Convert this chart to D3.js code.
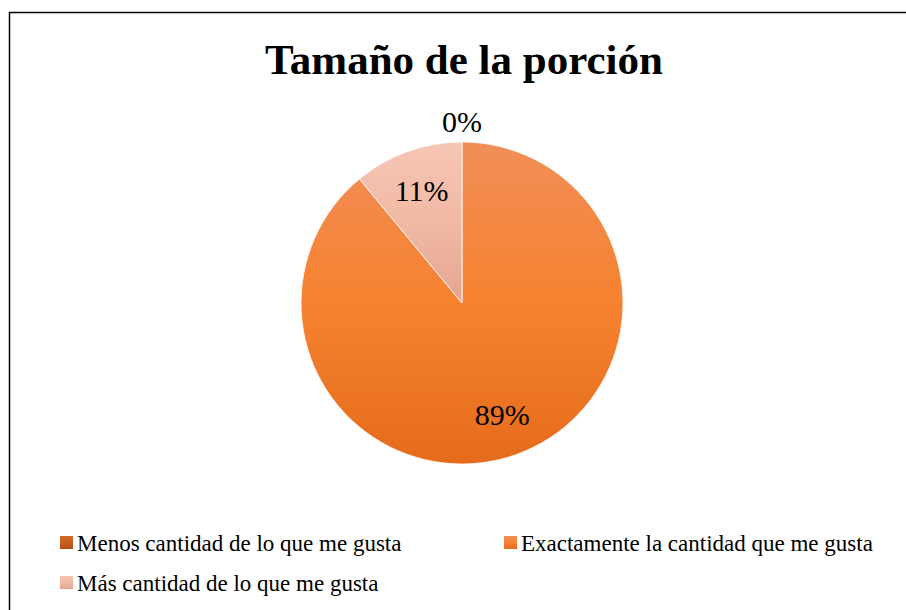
<!DOCTYPE html>
<html>
<head>
<meta charset="UTF-8">
<script src="https://cdnjs.cloudflare.com/ajax/libs/d3/7.8.5/d3.min.js"></script>
</head>
<body>
<script>
    // data
    var title = "Tamaño de la porción";
    var categories = ["Menos cantidad de lo que me gusta", "Exactamente la cantidad que me gusta", "Más cantidad de lo que me gusta"];
    var values = [0, 89, 11];
    var labels = ["0%", "89%", "11%"];

    // colours (top, middle, bottom of each gradient)
    var gradColors = [
        ["#D26B2B", "#C55E1C", "#B55215"],
        ["#F18E58", "#F6822F", "#E56B1A"],
        ["#F6C6B4", "#F1B9A4", "#E3A592"]
    ];

    var FONT = "'Liberation Serif'";
    var W = 906, H = 610;
    var cx = 462, cy = 303, r = 161;

    d3.select("body").style("margin", "0");

    var svg = d3.select("body").append("svg")
        .attr("width", W)
        .attr("height", H)
        .style("display", "block");

    var defs = svg.append("defs");
    gradColors.forEach(function (c, i) {
        var g = defs.append("linearGradient")
            .attr("id", "grad" + i)
            .attr("x1", 0).attr("y1", 0)
            .attr("x2", 0).attr("y2", 1);
        g.append("stop").attr("offset", "0%").attr("stop-color", c[0]);
        g.append("stop").attr("offset", "50%").attr("stop-color", c[1]);
        g.append("stop").attr("offset", "100%").attr("stop-color", c[2]);
    });

    // chart border
    svg.append("rect")
        .attr("x", 9.5).attr("y", 12.5)
        .attr("width", W + 10).attr("height", H + 10)
        .attr("fill", "none")
        .attr("stroke", "#000")
        .attr("stroke-width", 1.5);

    // legend
    var legendPos = [[60, 543], [504, 543], [60, 583]];
    var leg = svg.selectAll("g.leg")
        .data(categories)
        .enter().append("g")
        .attr("class", "leg")
        .attr("transform", function (d, i) { return "translate(" + legendPos[i][0] + "," + legendPos[i][1] + ")"; });

    leg.append("rect")
        .attr("x", 0).attr("y", -7)
        .attr("width", 13).attr("height", 13)
        .attr("fill", function (d, i) { return "url(#grad" + i + ")"; });

    leg.append("text")
        .attr("x", 17).attr("y", 8)
        .style("font-family", FONT)
        .style("font-size", "23px")
        .text(function (d) { return d; });

    var pie = d3.pie().sort(null).value(function (d) { return d; });
    var arcs = pie(values);

    var arc = d3.arc().innerRadius(0).outerRadius(r);
    var labelArc = d3.arc().innerRadius(r * 0.74).outerRadius(r * 0.74);
    var outerArc = d3.arc().innerRadius(r + 20).outerRadius(r + 20);

    var g = svg.append("g").attr("transform", "translate(" + cx + "," + cy + ")");

    g.selectAll("path.slice")
        .data(arcs)
        .enter().append("path")
        .attr("class", "slice")
        .attr("d", arc)
        .attr("fill", function (d, i) { return "url(#grad" + i + ")"; })
        .attr("stroke", "#fff")
        .attr("stroke-width", function (d) { return d.value > 0 ? 0.8 : 0; });

    g.selectAll("text.lbl")
        .data(arcs)
        .enter().append("text")
        .attr("class", "lbl")
        .attr("transform", function (d) {
            var p = d.value > 0 ? labelArc.centroid(d) : outerArc.centroid(d);
            return "translate(" + p[0] + "," + (p[1] + 10) + ")";
        })
        .attr("text-anchor", "middle")
        .style("font-family", FONT)
        .style("font-size", "30px")
        .text(function (d, i) { return labels[i]; });

    svg.append("text")
        .attr("x", 464).attr("y", 74)
        .attr("text-anchor", "middle")
        .style("font-family", FONT)
        .style("font-size", "43px")
        .style("font-weight", "bold")
        .text(title);
</script>
</body>
</html>
